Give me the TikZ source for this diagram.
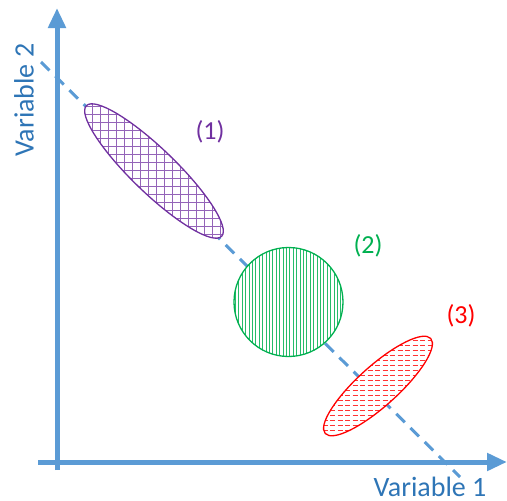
\documentclass[tikz,border=0pt]{standalone}
\usepackage{fontspec}
\setmainfont{Carlito}
\usetikzlibrary{arrows.meta}
\definecolor{axisblue}{HTML}{5B9BD5}
\definecolor{textblue}{HTML}{2E75B6}
\definecolor{mypurple}{HTML}{7030A0}
\definecolor{mygreen}{HTML}{00B050}
\definecolor{myred}{HTML}{FF0000}
\tikzset{
  axisline/.style={draw=axisblue,line width=5pt,-{Triangle[length=20pt,width=17pt]}},
  trendline/.style={draw=axisblue,line width=3pt,dash pattern=on 12pt off 8pt},
  axislabel/.style={text=textblue,font=\fontsize{28}{32}\selectfont,inner sep=0pt},
  grouplabel/.style={font=\fontsize{26}{30}\selectfont,inner sep=0pt},
  outline/.style={line width=1.3pt}
}
\begin{document}
\begin{tikzpicture}[x=1pt,y=-1pt]
\useasboundingbox (0,0) rectangle (507,501);
% trend line
\coordinate (t1) at (41,62);
\coordinate (t2) at (460,477);
\draw[trendline] (t1) -- (t2);
% axes
\coordinate (o1) at (57,470);
\coordinate (yt) at (57,8);
\coordinate (o2) at (38,462);
\coordinate (xt) at (507,462);
\draw[axisline] (o1) -- (yt);
\draw[axisline] (o2) -- (xt);
% ellipse 1
\fill[white] (154,171) ellipse [x radius=94, y radius=22, rotate=-44];
\begin{scope}
  \clip (154,171) ellipse [x radius=94, y radius=22, rotate=-44];
  \foreach \x in {60.5,68.5,...,260} \draw[mypurple!75,line width=1pt] (\x,90) -- (\x,250);
  \foreach \y in {90.5,98.5,...,260} \draw[mypurple!75,line width=1pt] (60,\y) -- (250,\y);
\end{scope}
\draw[mypurple,outline] (154,171) ellipse [x radius=94, y radius=22, rotate=-44];
% ellipse 2
\fill[white] (288.5,302) circle [radius=54.5];
\begin{scope}
  \clip (288.5,302) circle [radius=54.5];
  \foreach \x in {232,235.4,...,346} \draw[mygreen!85,line width=0.8pt] (\x,240) -- (\x,365);
\end{scope}
\draw[mygreen,outline] (288.5,302) circle [radius=54.5];
% ellipse 3
\fill[white] (378,386) ellipse [x radius=71, y radius=20, rotate=42];
\begin{scope}
  \clip (378,386) ellipse [x radius=71, y radius=20, rotate=42];
  \foreach \y in {330.5,335.5,...,445}
    \draw[myred!80,line width=1pt,dash pattern=on 5pt off 2.5pt] (300,\y) -- (460,\y);
\end{scope}
\draw[myred,outline] (378,386) ellipse [x radius=71, y radius=20, rotate=42];
% labels
\node[grouplabel,text=mypurple] (l1) at (210,132) {(1)};
\node[grouplabel,text=mygreen] (l2) at (368,246) {(2)};
\node[grouplabel,text=myred] (l3) at (461,316) {(3)};
\node[axislabel,rotate=90] (v2) at (24,100) {Variable 2};
\node[axislabel,anchor=base] (v1) at (430,496) {Variable 1};
\end{tikzpicture}
\end{document}
